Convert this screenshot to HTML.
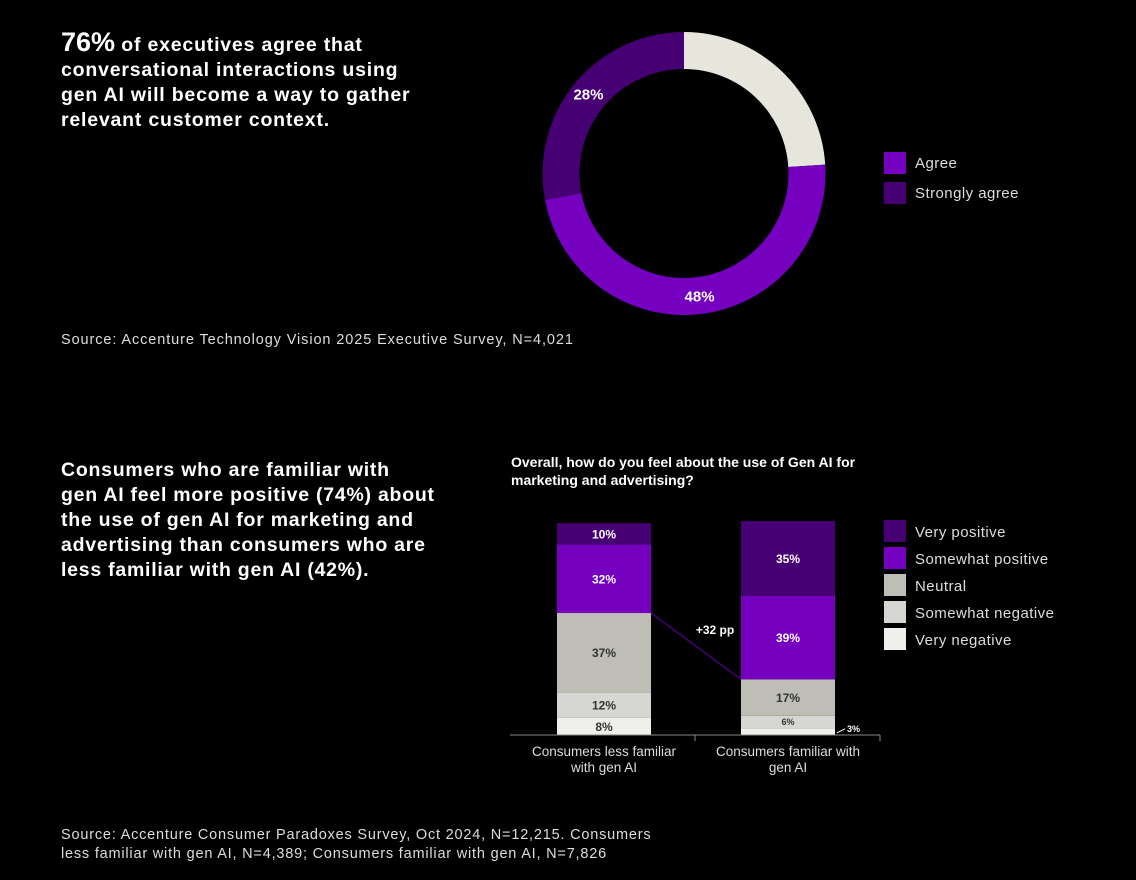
<!DOCTYPE html>
<html><head><meta charset="utf-8"><style>
body{margin:0;background:#000;width:1136px;height:880px;overflow:hidden;font-family:"Liberation Sans",sans-serif;color:#fff;position:relative}
.t{position:absolute;white-space:nowrap}
</style></head><body>
<div class="t" style="left:61px;top:30px;font-size:19.5px;font-weight:bold;line-height:25px;letter-spacing:0.8px"><span style="font-size:27px;letter-spacing:0">76%</span> of executives agree that<br>conversational interactions using<br>gen AI will become a way to gather<br>relevant customer context.</div>
<div class="t" style="left:61px;top:332px;font-size:14.5px;color:#ddd;letter-spacing:0.9px">Source: Accenture Technology Vision 2025 Executive Survey, N=4,021</div>
<div class="t" style="left:61px;top:458px;font-size:19.5px;font-weight:bold;line-height:25px;letter-spacing:0.75px">Consumers who are familiar with<br>gen AI feel more positive (74%) about<br>the use of gen AI for marketing and<br>advertising than consumers who are<br>less familiar with gen AI (42%).</div>
<div class="t" style="left:511px;top:453px;font-size:14px;font-weight:bold;line-height:18px">Overall, how do you feel about the use of Gen AI for<br>marketing and advertising?</div>
<div class="t" style="left:61px;top:826px;font-size:14.5px;line-height:19px;color:#ddd;letter-spacing:0.8px">Source: Accenture Consumer Paradoxes Survey, Oct 2024, N=12,215. Consumers<br>less familiar with gen AI, N=4,389; Consumers familiar with gen AI, N=7,826</div>
<svg id="svg" width="1136" height="880" style="position:absolute;left:0;top:0"></svg>
<script>
const donutLabels=["Other","Agree","Strongly agree"];
const donutValues=[24,48,28];
const donutShown=[false,true,true];
const barCategories=["Consumers less familiar|with gen AI","Consumers familiar with|gen AI"];
const seriesNames=["Very negative","Somewhat negative","Neutral","Somewhat positive","Very positive"];
const veryNegative=[8,3];
const somewhatNegative=[12,6];
const neutral=[37,17];
const somewhatPositive=[32,39];
const veryPositive=[10,35];
const diffLabel="+32 pp";
const NS="http://www.w3.org/2000/svg";
const svg=document.getElementById('svg');
function mk(t,a,p){const e=document.createElementNS(NS,t);for(const k in a)e.setAttribute(k,a[k]);(p||svg).appendChild(e);return e;}
const cx=684,cy=173.5,R=141.5,r=104.5;
const dCols=["#e6e6dc","#7500c0","#460073"];
const tot=donutValues.reduce((a,b)=>a+b,0);
let acc=0;
function pt(rad,a){return [cx+rad*Math.sin(a),cy-rad*Math.cos(a)];}
donutValues.forEach((v,i)=>{
 const a0=acc/tot*2*Math.PI;acc+=v;const a1=acc/tot*2*Math.PI;
 const L=(a1-a0)>Math.PI?1:0;
 const p1=pt(R,a0),p2=pt(R,a1),p3=pt(r,a1),p4=pt(r,a0);
 const e=mk('path',{d:`M${p1}A${R},${R} 0 ${L} 1 ${p2}L${p3}A${r},${r} 0 ${L} 0 ${p4}Z`,fill:dCols[i]});
 
 
 if(donutShown[i]){
  const am=(a0+a1)/2;const p=pt(124,am);
  const t=mk('text',{x:p[0],y:p[1]+5,'text-anchor':'middle','font-size':15,'font-weight':'bold',fill:'#fff'});
  t.textContent=v+'%';
  
  
 }
});
[["Agree","#7500c0"],["Strongly agree","#460073"]].forEach((d,i)=>{
 const g=mk('g',{});
 
 
 mk('rect',{x:884,y:152+i*30,width:22,height:22,fill:d[1]},g);
 const t=mk('text',{x:915,y:168+i*30,'font-size':15,fill:'#ddd','letter-spacing':0.45},g);t.textContent=d[0];
});
const series=[veryNegative,somewhatNegative,neutral,somewhatPositive,veryPositive];
const bCols=["#efefeb","#d6d6d2","#bebeb6","#7500c0","#460073"];
const tCols=["#333","#333","#333","#fff","#fff"];
const base=735,k=2.14,bx=[557,741],bw=94;
function y(v){return base-v*k;}
const tops=[[],[]];
barCategories.forEach((c,j)=>{
 let cum=0;
 series.forEach((s,i)=>{
  const v=s[j];const y0=y(cum),y1=y(cum+v);cum+=v;tops[j][i]=y1;
  const e=mk('rect',{x:bx[j],y:y1,width:bw,height:y0-y1,fill:bCols[i]});
  
  
  let t;
  if(v<5){
   mk('line',{x1:bx[j]+bw+2,y1:(y0+y1)/2+1,x2:bx[j]+bw+10,y2:(y0+y1)/2-3,stroke:'#fff','stroke-width':1});
   t=mk('text',{x:bx[j]+bw+12,y:(y0+y1)/2,'font-size':9,'font-weight':'bold',fill:'#fff'});
  } else {
   t=mk('text',{x:bx[j]+bw/2,y:(y0+y1)/2+(v<8?3:4.5),'text-anchor':'middle','font-size':v<8?9:12,'font-weight':'bold',fill:tCols[i]});
  }
  t.textContent=v+'%';
  
  
 });
 c.split('|').forEach((p,n)=>{
  const t=mk('text',{x:bx[j]+bw/2,y:756+n*16,'text-anchor':'middle','font-size':13.5,fill:'#ddd'});
  t.textContent=p;
  
  
 });
});
const cl=mk('line',{x1:bx[0]+bw,y1:tops[0][2],x2:bx[1],y2:tops[1][2],stroke:'#460073','stroke-width':1.5});


const dl=mk('text',{x:715,y:634,'text-anchor':'middle','font-size':12,'font-weight':'bold',fill:'#fff'});
dl.textContent=diffLabel;


const ax=mk('path',{d:`M510,735H880M695,735V741M880,735V741`,stroke:'#888','stroke-width':1,fill:'none'});


for(let i=4;i>=0;i--){
 const n=4-i;
 const g=mk('g',{});
 
 
 mk('rect',{x:884,y:520+n*27,width:22,height:22,fill:bCols[i]},g);
 const t=mk('text',{x:915,y:537+n*27,'font-size':15,fill:'#ddd','letter-spacing':0.45},g);t.textContent=seriesNames[i];
}
</script>
</body></html>
